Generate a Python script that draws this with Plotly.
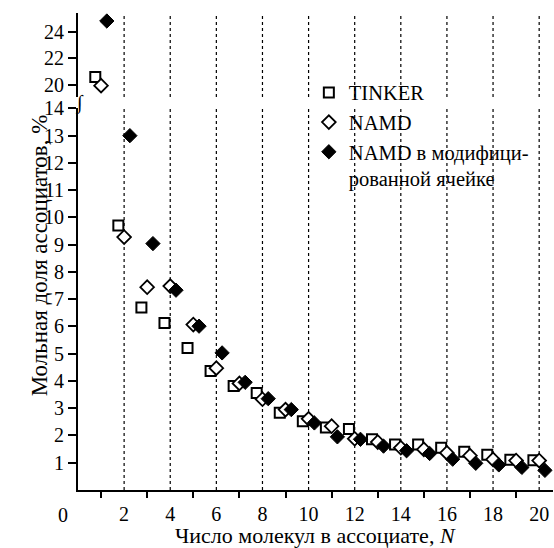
import plotly.graph_objects as go

# ---- data ----
N = list(range(1, 21))
tinker = [20.6, 9.70, 6.70, 6.13, 5.21, 4.37, 3.82, 3.56, 2.83, 2.52,
          2.29, 2.24, 1.86, 1.67, 1.67, 1.55, 1.40, 1.29, 1.11, 1.09]
namd = [19.95, 9.28, 7.44, 7.48, 6.07, 4.47, 3.91, 3.33, 2.95, 2.61,
        2.34, 1.88, 1.76, 1.55, 1.49, 1.36, 1.26, 1.12, 1.08, 1.08]
namd_mod = [24.8, 13.0, 9.04, 7.33, 6.01, 5.03, 3.95, 3.35, 2.95, 2.46,
            1.95, 1.86, 1.61, 1.44, 1.34, 1.13, 0.98, 0.92, 0.83, 0.72]
series_names = ["TINKER", "NAMD", "NAMD в модифици-<br>рованной ячейке"]
x_tick_labels = [str(v) for v in range(2, 21, 2)]
y_low_ticks = list(range(1, 15))
y_high_ticks = [20, 22, 24]

FONT = "Liberation Serif, Times New Roman, DejaVu Serif, serif"
INK = "#000000"
offsets = [-0.25, 0.0, 0.25]
styles = [
    dict(symbol="square", size=10, color="white", line=dict(color=INK, width=2)),
    dict(symbol="diamond", size=10.5, color="white", line=dict(color=INK, width=1.8)),
    dict(symbol="diamond", size=11, color=INK, line=dict(color=INK, width=1)),
]

fig = go.Figure()
for vals, name, off, st in zip([tinker, namd, namd_mod], series_names, offsets, styles):
    xs = [n + off for n in N]
    fig.add_trace(go.Scatter(x=xs, y=vals, mode="markers", name=name, marker=st,
                             xaxis="x", yaxis="y", showlegend=True))
    fig.add_trace(go.Scatter(x=xs, y=vals, mode="markers", name=name, marker=st,
                             xaxis="x2", yaxis="y2", showlegend=False))

even = list(range(2, 21, 2))
odd = list(range(1, 21, 2))
low_minor = [round(0.2 * k, 2) for k in range(0, 71)]
high_minor = [round(19 + 0.25 * k, 2) for k in range(0, 27)]

X_RANGE = [0, 20.6]
LOW_RANGE = [0, 14]
HIGH_RANGE = [19.1, 25.4]
LOW_DOM = [0, 0.80]
HIGH_DOM = [0.824, 1]

# dotted vertical grid at even N, in both panels (positioned on the x scale)
for v in even:
    for dom in (LOW_DOM, HIGH_DOM):
        fig.add_shape(type="line", xref="x", yref="paper", x0=v, x1=v,
                      y0=dom[0], y1=dom[1], layer="below",
                      line=dict(color="#000000", width=1.2, dash="dot"))

fig.update_layout(
    width=554, height=548,
    margin=dict(l=78, r=1, t=13, b=58),
    paper_bgcolor="white", plot_bgcolor="white",
    font=dict(family=FONT, size=20, color=INK),
    xaxis=dict(domain=[0, 1], range=X_RANGE, anchor="y",
               tickmode="array", tickvals=even, ticktext=x_tick_labels,
               ticks="outside", ticklen=5, tickcolor="rgba(0,0,0,0)",
               showline=True, linecolor=INK, linewidth=2, zeroline=False,
               showgrid=False,
               minor=dict(tickmode="array", tickvals=odd, ticks="outside", ticklen=6,
                          tickwidth=2, tickcolor=INK, showgrid=False),
               tickfont=dict(family=FONT, size=20, color=INK)),
    xaxis2=dict(domain=[0, 1], range=X_RANGE, anchor="y2",
                tickmode="array", tickvals=even, ticks="", showticklabels=False,
                showline=False, zeroline=False, showgrid=False),
    yaxis=dict(domain=LOW_DOM, range=LOW_RANGE, anchor="x",
               tickmode="array", tickvals=y_low_ticks, ticks="outside", ticklen=8,
               tickwidth=1.5, tickcolor=INK,
               showline=True, linecolor=INK, linewidth=2, showgrid=False,
               zeroline=False, tickfont=dict(family=FONT, size=20, color=INK)),
    yaxis3=dict(overlaying="y", anchor="x", side="left", range=LOW_RANGE,
                tickmode="array", tickvals=low_minor, ticks="outside", ticklen=4,
                tickwidth=1.2, tickcolor=INK, showticklabels=False,
                showline=False, showgrid=False, zeroline=False),
    yaxis2=dict(domain=HIGH_DOM, range=HIGH_RANGE, anchor="x2",
                tickmode="array", tickvals=y_high_ticks, ticks="outside", ticklen=8,
                tickwidth=1.5, tickcolor=INK,
                showline=True, linecolor=INK, linewidth=2, showgrid=False,
                zeroline=False, tickfont=dict(family=FONT, size=20, color=INK)),
    yaxis4=dict(overlaying="y2", anchor="x2", side="left", range=HIGH_RANGE,
                tickmode="array", tickvals=high_minor, ticks="outside", ticklen=4,
                tickwidth=1.2, tickcolor=INK, showticklabels=False,
                showline=False, showgrid=False, zeroline=False),
    legend=dict(x=0.486, y=0.875, xanchor="left", yanchor="top",
                bgcolor="rgba(0,0,0,0)", valign="top", traceorder="normal",
                font=dict(family=FONT, size=20.5, color=INK)),
    annotations=[
        dict(text="0", xref="x", yref="paper", x=0, y=0, xshift=-15, yshift=-12,
             showarrow=False, yanchor="top", font=dict(family=FONT, size=20, color=INK)),
        dict(text="Число молекул в ассоциате, <i>N</i>", xref="paper", yref="paper",
             x=0.5, y=-0.0945, yanchor="middle", showarrow=False,
             font=dict(family=FONT, size=22, color=INK)),
        dict(text="Мольная доля ассоциатов, %", xref="paper", yref="paper",
             x=-0.1116, y=0.493, textangle=-90, showarrow=False,
             font=dict(family=FONT, size=23, color=INK)),
        dict(text="∫", xref="paper", yref="paper", x=0, y=0.84, xshift=-5,
             showarrow=False, font=dict(family=FONT, size=20, color=INK)),
    ],
)

fig.write_html("out.html")
